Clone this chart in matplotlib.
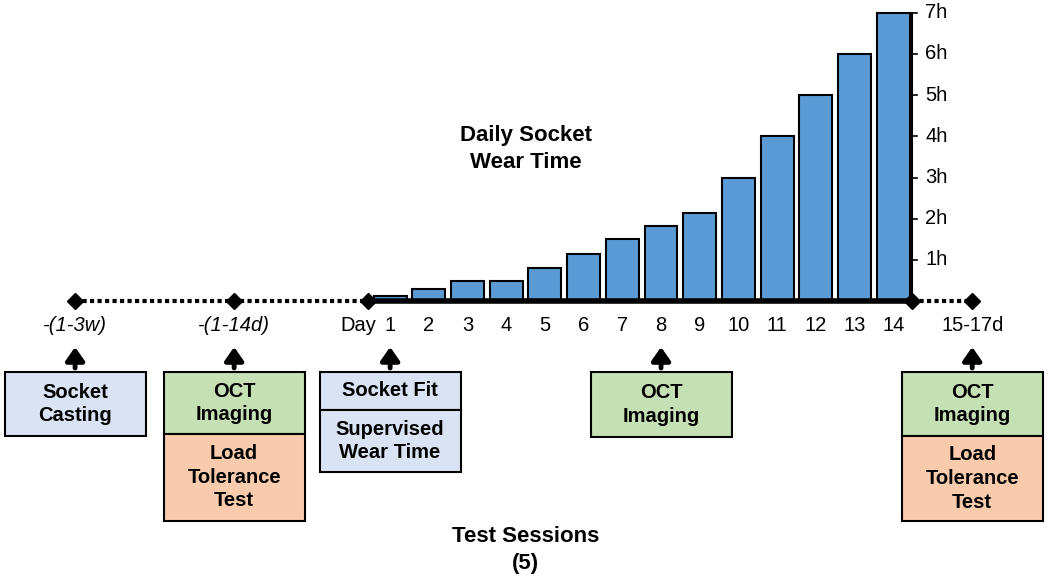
import matplotlib.pyplot as plt
from matplotlib.patches import Rectangle

plt.rcParams['font.family'] = ['Liberation Sans', 'DejaVu Sans']

# daily socket wear time (hours) for days 1-14
days = list(range(1, 15))
wear_hours = [0.13, 0.3, 0.48, 0.48, 0.8, 1.15, 1.5, 1.82, 2.15, 3, 4, 5, 6, 7]
hour_ticks = [1, 2, 3, 4, 5, 6, 7]
hour_labels = [f"{h}h" for h in hour_ticks]

# timeline events (position in day units) and their labels
event_pos = [-7.14, -3.03, 1, 8, 16.04]
event_labels = ["-(1-3w)", "-(1-14d)", None, None, "15-17d"]
event_italic = [True, True, False, False, False]
# boxes under each event: (text, colour, height in px)
event_boxes = [
    [("Socket\nCasting", "#DAE3F3", 64)],
    [("OCT\nImaging", "#C5E0B4", 62), ("Load\nTolerance\nTest", "#F8CBAD", 87)],
    [("Socket Fit", "#DAE3F3", 38), ("Supervised\nWear Time", "#DAE3F3", 62)],
    [("OCT\nImaging", "#C5E0B4", 65)],
    [("OCT\nImaging", "#C5E0B4", 64), ("Load\nTolerance\nTest", "#F8CBAD", 85)],
]
day_start = 0.43
axis_end = 14.49

fig = plt.figure(figsize=(10.5, 5.84), dpi=100)
ax = fig.add_axes([0, 0, 1, 1])
ax.set_xlim(-9.08, 18.05)
ax.set_ylim(-6.87, 7.31)
ax.axis('off')

PXD = 1050 / (18.05 + 9.08)   # pixels per day
PXH = 584 / (7.31 + 6.87)     # pixels per hour


def yp(py):
    # pixel row -> data y
    return 7.31 - py / PXH


# bars
ax.bar(days, wear_hours, width=0.85, color='#5B9BD5', edgecolor='black',
       linewidth=1.5, zorder=2)

# timeline
ax.plot([day_start, axis_end], [0, 0], color='black', lw=4,
        solid_capstyle='butt', zorder=3)
ax.plot([event_pos[0], day_start], [0, 0], color='black', lw=3,
        ls=(0, (1, 0.8)), zorder=3)
ax.plot([axis_end, event_pos[-1]], [0, 0], color='black', lw=3,
        ls=(0, (1, 0.8)), zorder=3)
ax.plot([event_pos[0], event_pos[1], day_start, axis_end, event_pos[-1]],
        [0] * 5, 'D', color='black', ms=8, zorder=4)

# right hour axis
ax.plot([axis_end, axis_end], [0, 7], color='black', lw=1.5, zorder=3)
for h, lab in zip(hour_ticks, hour_labels):
    ax.plot([axis_end, axis_end + 5 / PXD], [h, h], color='black', lw=1.2)
    ax.text(axis_end + 13 / PXD, h, lab, ha='left', va='center', fontsize=14.5)

# day labels
ax.text(day_start - 0.25, yp(326), "Day", ha='center', va='center', fontsize=14.5)
for d in days:
    ax.text(d, yp(326), str(d), ha='center', va='center', fontsize=14.5)

ax.text(4.5, yp(149), "Daily Socket\nWear Time", ha='center', va='center',
        fontsize=16, fontweight='bold', linespacing=1.4)
ax.text(4.5, yp(550), "Test Sessions\n(5)", ha='center', va='center',
        fontsize=16, fontweight='bold', linespacing=1.4)

# event labels, arrows and boxes
box_w = 141 / PXD
for x, lab, it, boxes in zip(event_pos, event_labels, event_italic, event_boxes):
    if lab:
        ax.text(x, yp(326), lab, ha='center', va='center', fontsize=14.5,
                style='italic' if it else 'normal')
    ax.annotate('', xy=(x, yp(347)), xytext=(x, yp(368)),
                arrowprops=dict(arrowstyle='-|>,head_length=0.5,head_width=0.35',
                                color='black', lw=3.5, mutation_scale=16,
                                shrinkA=0, shrinkB=0))
    top = 372
    for txt, col, hpx in boxes:
        ax.add_patch(Rectangle((x - box_w / 2, yp(top + hpx)), box_w, hpx / PXH,
                               facecolor=col, edgecolor='black', lw=1.5, zorder=2))
        ax.text(x, yp(top + hpx / 2), txt, ha='center', va='center',
                fontsize=14.5, fontweight='bold', linespacing=1.3, zorder=3)
        top += hpx

fig.savefig("out.png", dpi=100)
